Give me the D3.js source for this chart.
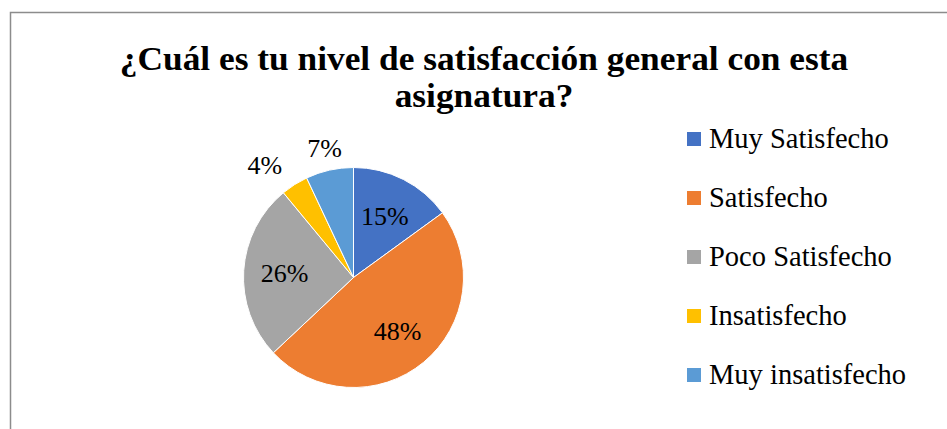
<!DOCTYPE html>
<meta charset="utf-8">
<style>
  body { margin: 0; background: #fff; }
</style>
<body>
<svg id="chart" width="947" height="429"></svg>
<script src="https://d3js.org/d3.v7.min.js"></script>
<script>
var categories = ["Muy Satisfecho", "Satisfecho", "Poco Satisfecho", "Insatisfecho", "Muy insatisfecho"];
var values = [15, 48, 26, 4, 7];
var colors = ["#4472c4", "#ed7d31", "#a5a5a5", "#ffc000", "#5b9bd5"];
var titleLines = ["¿Cuál es tu nivel de satisfacción general con esta", "asignatura?"];

var w = 947, h = 429;
var cx = 353.5, cy = 277.5, r = 110;
var font = "'Liberation Serif'";

var svg = d3.select("#chart");

svg.append("rect")
    .attr("width", w)
    .attr("height", h)
    .attr("fill", "#fff");

// chart border (runs off the right and bottom)
svg.append("rect")
    .attr("x", 10.5)
    .attr("y", 12.5)
    .attr("width", w + 20)
    .attr("height", h + 20)
    .attr("fill", "none")
    .attr("stroke", "#8c8c8c")
    .attr("stroke-width", 1.5);

svg.selectAll(".title")
    .data(titleLines)
    .enter()
    .append("text")
    .attr("class", "title")
    .attr("transform", function(d, i) { return "translate(484," + (70 + i * 37) + ") scale(1.04,1)"; })
    .attr("text-anchor", "middle")
    .style("font-family", font)
    .style("font-weight", "bold")
    .attr("font-size", 34)
    .attr("fill", "#000")
    .text(function(d) { return d; });

var data = categories.map(function(c, i) { return {name: c, value: values[i], color: colors[i]}; });

var pie = d3.pie().sort(null).value(function(d) { return d.value; });
var arc = d3.arc().innerRadius(0).outerRadius(r);
var inLabel = d3.arc().innerRadius(69).outerRadius(69);
var outLabel = d3.arc().innerRadius(133).outerRadius(133);

var g = svg.append("g").attr("transform", "translate(" + cx + "," + cy + ")");

var arcs = pie(data);

g.selectAll("path")
    .data(arcs)
    .enter()
    .append("path")
    .attr("d", arc)
    .attr("fill", function(d) { return d.data.color; })
    .attr("stroke", "#fff")
    .attr("stroke-width", 1);

function isOutside(d) { return d.data.value < 10; }
function midAngle(d) { return (d.startAngle + d.endAngle) / 2; }

g.selectAll(".lbl")
    .data(arcs)
    .enter()
    .append("text")
    .attr("class", "lbl")
    .attr("x", function(d) { return (isOutside(d) ? outLabel : inLabel).centroid(d)[0]; })
    .attr("y", function(d) { return (isOutside(d) ? outLabel : inLabel).centroid(d)[1] + 9; })
    .attr("text-anchor", function(d) {
        if (isOutside(d) && Math.sin(midAngle(d)) < -0.4) return "end";
        return "middle";
    })
    .style("font-family", font)
    .attr("font-size", 26)
    .attr("fill", "#000")
    .text(function(d) { return d.data.value + "%"; });

var legend = svg.selectAll(".legend")
    .data(data)
    .enter()
    .append("g")
    .attr("class", "legend")
    .attr("transform", function(d, i) { return "translate(687," + (139 + i * 59) + ")"; });

legend.append("rect")
    .attr("x", 0)
    .attr("y", -7)
    .attr("width", 14)
    .attr("height", 14)
    .attr("fill", function(d) { return d.color; });

legend.append("text")
    .attr("x", 22)
    .attr("y", 9)
    .style("font-family", font)
    .attr("font-size", 28.5)
    .attr("fill", "#000")
    .text(function(d) { return d.name; });
</script>
